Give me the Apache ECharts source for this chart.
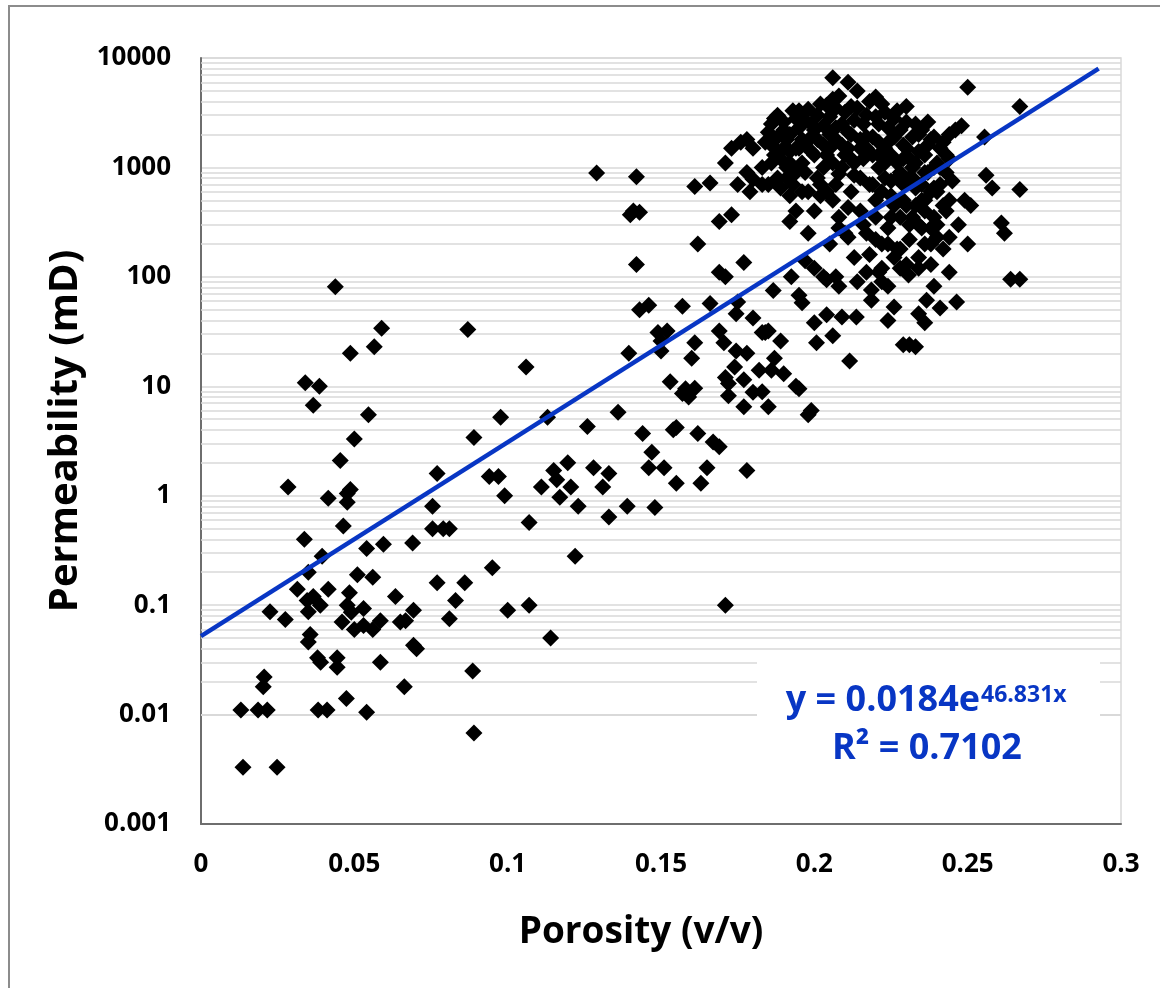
<!DOCTYPE html>
<html><head><meta charset="utf-8">
<script src="https://cdn.jsdelivr.net/npm/echarts@6/dist/echarts.min.js"></script>
<style>html,body{margin:0;padding:0;background:#fff}#c{width:1160px;height:988px}</style>
</head><body><div id="c"></div>
<script>
// ---- data (porosity v/v, permeability mD) ----
const xTicks = [0, 0.05, 0.1, 0.15, 0.2, 0.25, 0.3];
const yTicks = [0.001, 0.01, 0.1, 1, 10, 100, 1000, 10000];
const minorMultipliers = [2, 3, 4, 5, 6, 7, 8, 9];

const lowPorosity = [
  [0.013,0.011],[0.0137,0.0033],[0.0186,0.011],[0.0203,0.018],[0.0206,0.022],[0.0216,0.011],[0.0248,0.0033],
  [0.0225,0.087],[0.0275,0.074],[0.0284,1.2],[0.0314,0.14],[0.0337,0.40],[0.034,10.8],[0.0346,0.11],[0.035,0.2],
  [0.035,0.087],[0.0356,0.054],[0.035,0.046],[0.0366,6.7],[0.0366,0.12],[0.038,0.033],[0.039,0.03],[0.0386,10],
  [0.0395,0.28],[0.0389,0.1],[0.0382,0.011],[0.0411,0.011],[0.0415,0.14],[0.0415,0.95],[0.0444,0.033],[0.0444,0.027],
  [0.0438,81],[0.0454,2.1],[0.046,0.07],[0.0477,0.87],[0.0464,0.53],[0.0477,1.05],[0.0474,0.014],[0.0477,0.1],
  [0.049,0.086],[0.0487,1.14],[0.0487,20],[0.0484,0.13],[0.05,3.3],[0.050,0.06],[0.051,0.19],[0.053,0.093],
  [0.053,0.065],[0.054,0.0105],[0.054,0.33],[0.0546,5.5],[0.056,0.18],[0.0565,23],[0.056,0.06],[0.0585,0.072],
  [0.0585,0.03],[0.0589,34],[0.0595,0.36],[0.0634,0.12],[0.065,0.07],[0.0667,0.072],[0.0663,0.018],[0.069,0.37],
  [0.0693,0.09],[0.0693,0.043],[0.0703,0.04],[0.0755,0.8],[0.0755,0.5],[0.077,1.6],[0.077,0.16],[0.079,0.5],
  [0.081,0.5],[0.081,0.075],[0.083,0.11],[0.086,0.16],[0.087,33],[0.0886,0.025],[0.089,0.0068],[0.089,3.4],
  [0.094,1.5],[0.095,0.22],[0.097,1.5],[0.0977,5.2],[0.099,1.0]
];
const midPorosity = [
  [0.100,0.09],[0.106,15],[0.107,0.1],[0.107,0.57],[0.111,1.2],[0.113,5.2],[0.114,0.05],[0.115,1.7],[0.116,1.4],
  [0.117,0.97],[0.1196,2.0],[0.1206,1.2],[0.122,0.28],[0.123,0.8],[0.126,4.3],[0.128,1.8],[0.129,890],[0.131,1.2],
  [0.133,1.6],[0.133,0.64],[0.136,5.8],[0.139,0.8],[0.1395,20],[0.140,370],[0.141,400],[0.143,390],[0.142,820],
  [0.142,130],[0.144,3.7],[0.143,50],[0.146,55],[0.146,1.8],[0.147,2.5],[0.148,0.78],[0.149,31],[0.150,21],
  [0.151,1.8],[0.150,26],[0.152,32],[0.153,11],[0.154,4],[0.155,4.2],[0.155,1.3],[0.157,8.6],[0.157,54],
  [0.158,9.5],[0.159,8]
];
const risingPorosity = [
  [0.160,18],[0.161,25],[0.161,9.6],[0.161,670],[0.162,3.7],[0.162,200],[0.163,1.3],[0.165,1.8],[0.166,720],
  [0.166,57],[0.167,3.1],[0.169,2.8],[0.169,320],[0.169,110],[0.169,32],[0.171,100],[0.171,1100],[0.171,0.1],
  [0.1705,25],[0.171,12],[0.172,10.6],[0.172,8.2],[0.173,370],[0.173,1500],[0.174,15],[0.1745,46],[0.1745,21],
  [0.175,59],[0.175,700],[0.176,1700],[0.177,11.5],[0.177,6.5],[0.177,135],[0.178,1800],[0.178,1.7],[0.178,20],
  [0.178,900],[0.179,600],[0.180,1500],[0.180,780],[0.180,42],[0.180,8.8],[0.182,14],[0.183,31],[0.183,8.9],
  [0.183,700],[0.185,32],[0.185,6.5],[0.186,14],[0.1866,75],[0.186,2500],[0.187,1300],[0.187,18],[0.188,3000],
  [0.189,26],[0.184,31],[0.190,2200],[0.190,13],[0.191,1800],[0.191,1000],[0.1925,100],[0.192,550],[0.192,320],
  [0.194,2800],[0.194,1500],[0.194,10],[0.195,3300],[0.195,68],[0.196,58],[0.195,9.5],[0.196,1800],[0.197,140],
  [0.198,5.5],[0.199,6],[0.198,600],[0.199,2500],[0.200,38],[0.200,120],[0.2007,25],[0.200,1300]
];
const highPorosity = [
  [0.201,3000],[0.202,700],[0.202,550],[0.203,100],[0.204,45],[0.203,1600],[0.204,3700],[0.204,94],[0.206,6600],
  [0.205,2000],[0.206,29],[0.206,500],[0.206,4200],[0.207,100],[0.207,3500],[0.207,1800],[0.208,280],[0.208,870],
  [0.208,82],[0.209,2500],[0.209,43],[0.210,1300],[0.211,6000],[0.211,430],[0.211,230],[0.2115,17],[0.212,3600],
  [0.212,2000],[0.213,850],[0.2137,43],[0.214,90],[0.214,5000],[0.215,1800],[0.215,400],[0.216,1200],[0.2186,61],
  [0.217,3000],[0.217,250],[0.218,700],[0.218,160],[0.2186,76],[0.219,1900],[0.220,4400],[0.220,350],[0.221,110],
  [0.221,1000],[0.221,2500],[0.222,120],[0.222,600],[0.222,200],[0.223,3200],[0.223,1500],[0.224,82],[0.224,40],
  [0.225,750],[0.225,1800],[0.225,350],[0.226,53],[0.226,2800],[0.227,1100],[0.227,180],[0.228,120],[0.228,2200],
  [0.229,24],[0.229,700],[0.229,500],[0.230,3600],[0.230,1500],[0.2307,104],[0.231,300],[0.231,220],[0.231,24],
  [0.233,23],[0.232,800],[0.232,1000],[0.233,2500],[0.233,450],[0.234,46],[0.234,150],[0.234,2000],[0.236,38],
  [0.235,280],[0.235,700],[0.236,1300],[0.236,500],[0.2366,61],[0.237,2600],[0.239,82],[0.238,1800],[0.238,200],
  [0.239,1000],[0.239,350],[0.240,230],[0.240,600],[0.241,52],[0.241,1500],[0.242,450],[0.243,900],[0.244,230],
  [0.244,110],[0.244,2000],[0.245,750],[0.2464,59],[0.246,2200],[0.247,300],[0.248,2400],[0.249,500],[0.250,5400],
  [0.250,200],[0.251,450],[0.2555,1900],[0.256,850],[0.258,650],[0.261,310],[0.262,250],[0.264,95],[0.267,95],
  [0.267,3600],[0.267,630]
];
const clusterPorosity = [
  [0.184,1700],[0.185,2100],[0.186,1600],[0.187,2800],[0.188,1900],[0.189,1200],[0.190,2600],[0.191,800],[0.192,2000],
  [0.192,1400],[0.193,3300],[0.194,900],[0.195,2300],[0.196,1100],[0.197,2700],[0.197,1600],[0.198,3400],[0.199,1900],
  [0.200,2200],[0.201,800],[0.202,3800],[0.203,2400],[0.204,1300],[0.205,2900],[0.206,1100],[0.207,2300],[0.208,4500],
  [0.209,1600],[0.210,3200],[0.211,2100],[0.212,1200],[0.213,2700],[0.214,3500],[0.215,1500],[0.216,2500],[0.217,1900],
  [0.218,4000],[0.219,1300],[0.220,2900],[0.221,1700],[0.222,3800],[0.223,800],[0.224,2300],[0.225,1300],[0.226,1900],
  [0.227,3300],[0.228,900],[0.229,1600],[0.230,2600],[0.231,1200],[0.232,1900],[0.233,650],[0.234,1400],[0.235,2200],
  [0.236,900],[0.237,1600],[0.238,600],[0.239,1900],[0.240,1100],[0.241,700],[0.242,1700],[0.243,400],[0.244,1200],
  [0.183,1000],[0.185,700],[0.189,650],[0.194,400],[0.196,600],[0.200,400],[0.204,600],[0.208,350],[0.212,600],
  [0.216,300],[0.220,500],[0.224,280],[0.228,350],[0.232,350],[0.236,400],[0.240,300],[0.198,250],[0.205,200],
  [0.213,150],[0.217,110],[0.222,90],[0.226,150],[0.230,130],[0.234,120],[0.238,130],[0.242,180],[0.210,250],[0.224,200],
  [0.186,1100],[0.188,800],[0.190,1500],[0.192,1100],[0.193,700],[0.195,1500],[0.197,900],[0.199,1400],[0.201,1800],
  [0.203,1000],[0.205,1500],[0.207,700],[0.209,1000],[0.211,1500],[0.213,1100],[0.215,800],[0.217,1500],[0.219,700],
  [0.221,1300],[0.223,1100],[0.225,550],[0.227,800],[0.229,1200],[0.231,800],[0.233,1100],[0.235,500],[0.237,900],
  [0.239,650],[0.241,1000],[0.243,1300],[0.226,450],[0.230,450],[0.234,300],[0.238,280],[0.244,500],[0.220,220],
  [0.228,180],[0.236,200]
];
// trendline as drawn: y = a * exp(b * x) over the x range shown
const trendA = 0.052;
const trendB = 40.8;
const trendX = [0, 0.2927];
const equationText = 'y = 0.0184e';
const equationExp = '46.831x';
const r2Text = 'R\u00B2 = 0.7102';

// ---- build ----
const FONT = '"Open Sans", "Noto Sans", sans-serif';
const BLUE = '#0836c4';
const allPoints = lowPorosity.concat(midPorosity, risingPorosity, highPorosity, clusterPorosity);
const trendData = trendX.map(x => [x, trendA * Math.exp(trendB * x)]);
const minorLines = [];
yTicks.slice(0, -1).forEach(d => minorMultipliers.forEach(m => minorLines.push({ yAxis: +(d * m).toPrecision(3) })));

const chart = echarts.init(document.getElementById('c'), null, { renderer: 'canvas' });
chart.setOption({
  animation: false,
  backgroundColor: '#fff',
  grid: { left: 201, right: 39, top: 58, bottom: 164, show: true, borderColor: '#d9d9d9', borderWidth: 1.5, backgroundColor: 'transparent' },
  xAxis: {
    type: 'value', min: xTicks[0], max: xTicks[xTicks.length - 1], interval: 0.05,
    axisLine: { show: true, onZero: false, lineStyle: { color: '#6e6e6e', width: 2 } },
    axisTick: { show: false }, splitLine: { show: false },
    axisLabel: { fontFamily: FONT, fontSize: 26, fontWeight: 'bold', color: '#000', margin: 28,
      formatter: v => String(+v.toFixed(2)) },
    name: 'Porosity (v/v)', nameLocation: 'middle', nameGap: 90,
    nameTextStyle: { fontFamily: FONT, fontSize: 37, fontWeight: 'bold', color: '#000', padding: [0, 40, 0, 0] }
  },
  yAxis: {
    type: 'log', logBase: 10, min: yTicks[0], max: yTicks[yTicks.length - 1],
    axisLine: { show: true, lineStyle: { color: '#6e6e6e', width: 2 } },
    axisTick: { show: false },
    splitLine: { show: true, lineStyle: { color: '#d9d9d9', width: 1.5 } },
    axisLabel: { fontFamily: FONT, fontSize: 26, fontWeight: 'bold', color: '#000', margin: 30,
      formatter: v => String(+(+v).toPrecision(4)) },
    name: 'Permeability (mD)', nameLocation: 'middle', nameGap: 103,
    nameTextStyle: { fontFamily: FONT, fontSize: 40, fontWeight: 'bold', color: '#000', padding: [0, 0, 0, 20] }
  },
  series: [
    { type: 'line', data: [], z: 1, silent: true,
      markLine: { z: 1, silent: true, symbol: ['none', 'none'], label: { show: false },
        lineStyle: { color: '#d9d9d9', width: 1.5, type: 'solid' }, data: minorLines, animation: false } },
    { type: 'scatter', data: allPoints, symbol: 'diamond', symbolSize: 17, z: 3,
      itemStyle: { color: '#000', opacity: 1 } },
    { type: 'line', data: trendData, showSymbol: false, symbol: 'none', z: 4,
      lineStyle: { color: BLUE, width: 4.5 } }
  ],
  graphic: [
    { type: 'rect', z: 0, silent: true, shape: { x: 9, y: 6, width: 1200, height: 1000 },
      style: { fill: 'none', stroke: '#8c8c8c', lineWidth: 2 } },
    { type: 'rect', z: 50, shape: { x: 757, y: 662, width: 343, height: 123 }, style: { fill: '#fff' } },
    { type: 'text', z: 51, x: 980, y: 701,
      style: { text: equationText, font: 'bold 36px ' + FONT, fill: BLUE, align: 'right', verticalAlign: 'middle' } },
    { type: 'text', z: 51, x: 981, y: 695,
      style: { text: equationExp, font: 'bold 23px ' + FONT, fill: BLUE, align: 'left', verticalAlign: 'middle' } },
    { type: 'text', z: 51, x: 927, y: 749,
      style: { text: r2Text, font: 'bold 36px ' + FONT, fill: BLUE, align: 'center', verticalAlign: 'middle' } }
  ]
});
</script></body></html>
